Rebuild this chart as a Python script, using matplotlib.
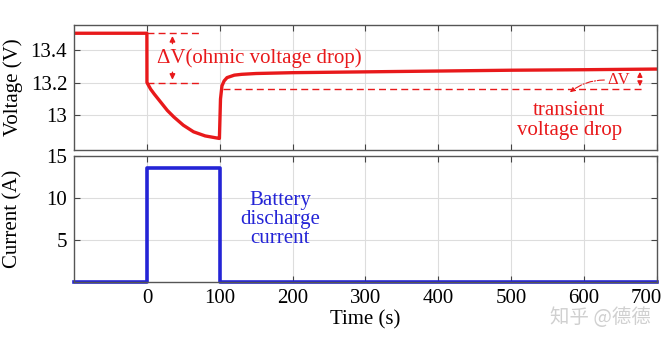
import matplotlib
matplotlib.use("Agg")
import matplotlib.pyplot as plt
import matplotlib.transforms as mtransforms
import numpy as np

plt.rcParams['font.family'] = ['Liberation Serif', 'Noto Sans CJK SC', 'DejaVu Sans']
plt.rcParams['mathtext.fontset'] = 'stix'

# voltage trace
t_volt = [-100, -0.1, 0, 5, 10, 19, 28, 37, 50, 64, 80, 99, 99.5, 101, 103, 106, 110, 120, 130, 150, 200, 300, 400, 500, 600, 700]
volt = [13.5, 13.5, 13.2, 13.16, 13.13, 13.08, 13.03, 12.99, 12.94, 12.9, 12.875, 12.86, 12.86, 13.1, 13.18, 13.21, 13.23, 13.245, 13.25, 13.255, 13.26, 13.265, 13.27, 13.275, 13.278, 13.282]

# current pulse
t_curr = [-100, 0, 0, 100, 100, 700]
curr = [0, 0, 13.6, 13.6, 0, 0]

ohmic_hi = 13.5
ohmic_lo = 13.2
trans_lo = 13.16
v_end = 13.282

red = '#e8191b'
blue = '#2424d6'

fig = plt.figure(figsize=(6.68, 3.43), dpi=100)
ax1 = fig.add_axes([0.111, 0.563, 0.872, 0.364])
ax2 = fig.add_axes([0.111, 0.178, 0.872, 0.367])

for ax in (ax1, ax2):
    ax.set_xlim(-100, 700)
    ax.set_xticks([0, 100, 200, 300, 400, 500, 600, 700])
    ax.grid(True, color='#dddddd', linewidth=0.8)
    ax.tick_params(direction='in', top=True, right=True, labelsize=15, length=4, color='#444444', pad=5)
    for s in ax.spines.values():
        s.set_color('#555555')
        s.set_linewidth(1.0)

# voltage panel
ax1.plot(t_volt, volt, color=red, linewidth=2.4)
ax1.set_ylim(12.79, 13.55)
ax1.set_yticks([13, 13.2, 13.4])
ax1.set_yticklabels(['13', '13.2', '13.4'])
ax1.tick_params(labelbottom=False)
ax1.set_ylabel('Voltage (V)', fontsize=15)

ax1.hlines([ohmic_hi, ohmic_lo], 0, 74, colors=red, linestyles=(0, (5, 3)), linewidth=1)
ax1.annotate('', xy=(35, ohmic_hi), xytext=(35, 13.42),
             arrowprops=dict(arrowstyle='-|>', color=red, lw=1, mutation_scale=8))
ax1.annotate('', xy=(35, ohmic_lo), xytext=(35, 13.28),
             arrowprops=dict(arrowstyle='-|>', color=red, lw=1, mutation_scale=8))
ax1.text(14, 13.35, 'ΔV(ohmic voltage drop)', color=red, fontsize=15, va='center', ha='left')

ax1.hlines(trans_lo, 104, 683, colors=red, linestyles=(0, (5, 3)), linewidth=1)
ax1.annotate('', xy=(677, v_end), xytext=(677, 13.22),
             arrowprops=dict(arrowstyle='-|>', color=red, lw=1, mutation_scale=7))
ax1.annotate('', xy=(677, trans_lo), xytext=(677, 13.22),
             arrowprops=dict(arrowstyle='-|>', color=red, lw=1, mutation_scale=7))
ax1.text(632, 13.215, 'ΔV', color=red, fontsize=12, va='center', ha='left')
ax1.annotate('', xy=(578, 13.13), xytext=(632, 13.215),
             arrowprops=dict(arrowstyle='-|>', color=red, lw=0.8, linestyle='-.',
                             mutation_scale=7, connectionstyle='arc3,rad=0.2'))
ax1.text(580, 12.97, 'transient\nvoltage drop', color=red, fontsize=15, ha='center', va='center',
         linespacing=1.1)

# current panel
ax2.plot(t_curr, curr, color=blue, linewidth=2.6, clip_on=False)
ax2.set_ylim(0, 15)
ax2.set_yticks([5, 10, 15])
ax2.set_ylabel('Current (A)', fontsize=15)
ax2.set_xlabel('Time (s)', fontsize=15, labelpad=2)
ax2.text(183, 7.4, 'Battery\ndischarge\ncurrent', color=blue, fontsize=15, ha='center', va='center',
         linespacing=1.0)

# nudge the last tick label so it stays inside the figure
last = ax2.get_xticklabels()[-1]
last.set_transform(last.get_transform() + mtransforms.ScaledTranslation(-10 / 100, 0, fig.dpi_scale_trans))

ax1.yaxis.set_label_coords(-0.088, 0.5)
ax2.yaxis.set_label_coords(-0.088, 0.5)

fig.text(0.975, 0.075, '知乎 @德德', color='#d0d0d0', fontsize=14, ha='right', va='center',
         family=['Noto Sans CJK SC', 'DejaVu Sans'])

fig.savefig('out.png', dpi=100)
